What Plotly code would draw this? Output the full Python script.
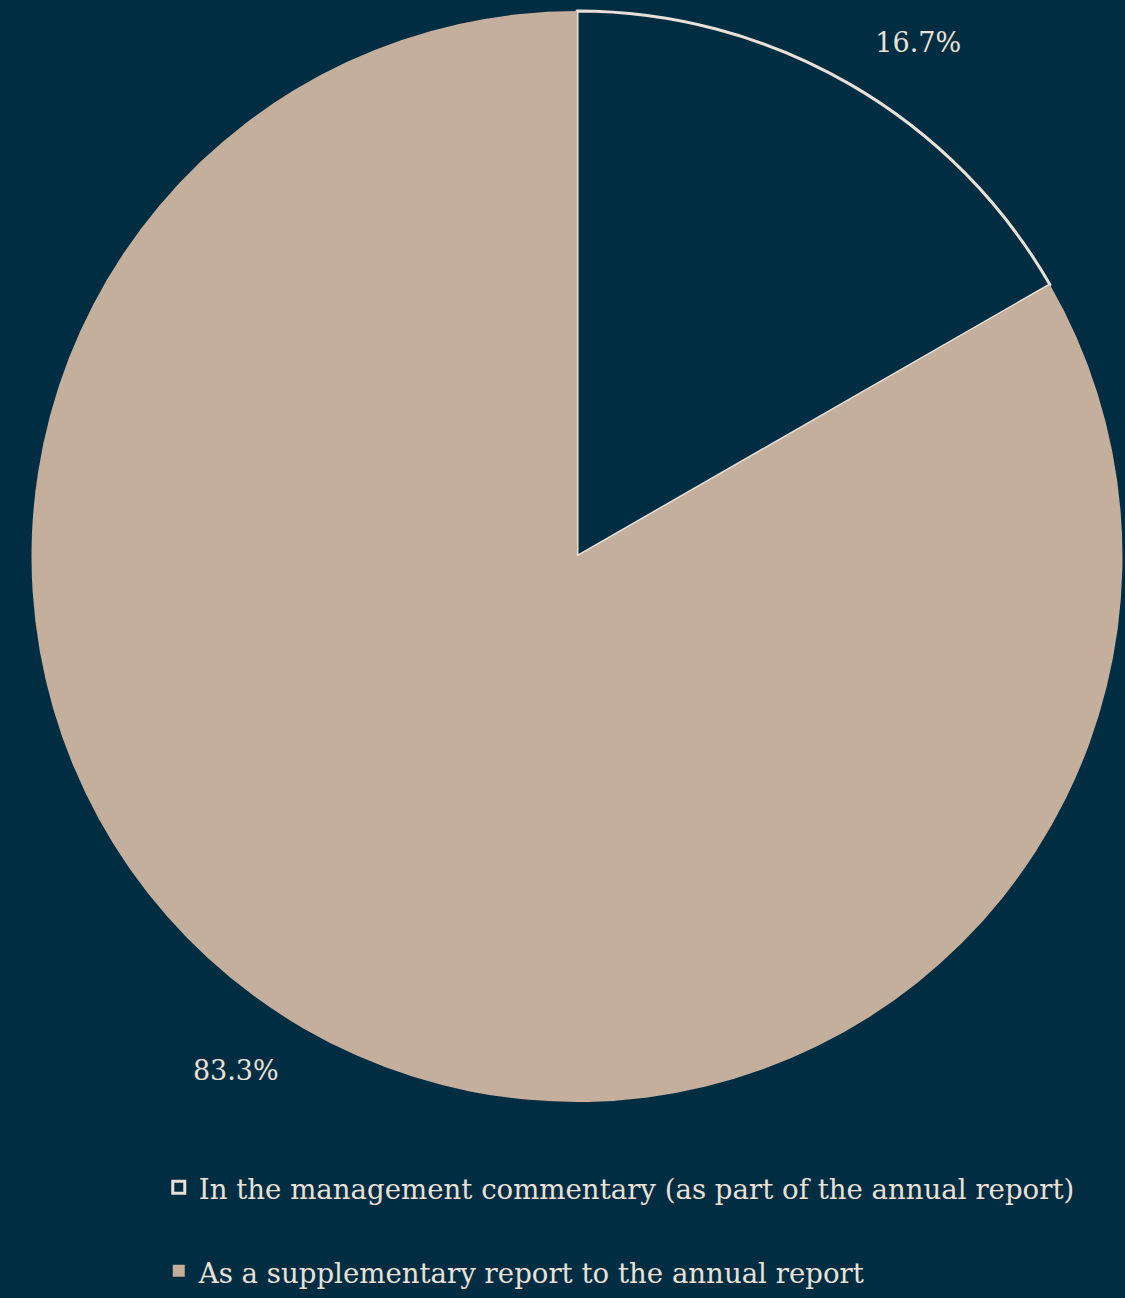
import plotly.graph_objects as go

# Share of companies by where the report is published
categories = [
    "In the management commentary (as part of the annual report)",
    "As a supplementary report to the annual report",
]
shares = [16.7, 83.3]

BG = "#012D43"
BEIGE = "#C4AF9C"
LIGHT = "#E9E1D8"
FONT = "Georgia, 'DejaVu Serif', 'Liberation Serif', serif"

# blank lines / spaces nudge the outside labels a little further from the rim
label_templates = ["\u00a0%{value:.1f}%<br> ", " <br>%{value:.1f}%\u00a0"]

# legend text is set at 27.6px inside a 31px legend font, which spaces the rows out;
# the first entry gets an empty second line to open the gap between entries
legend_labels = [
    f"<span style='font-size:27.6px'>{c}</span>" + ("<br> " if i < len(categories) - 1 else "")
    for i, c in enumerate(categories)
]

fig = go.Figure(
    go.Pie(
        labels=legend_labels,
        values=shares,
        sort=False,
        direction="clockwise",
        rotation=0,
        marker=dict(colors=[BG, BEIGE], line=dict(color=[LIGHT, BEIGE], width=[3, 0])),
        texttemplate=label_templates,
        textposition="outside",
        textfont=dict(color=LIGHT, size=27, family=FONT),
        automargin=False,
        hoverinfo="label+percent",
    )
)

PLOT_H = 1298 - 11 - 195

fig.update_layout(
    width=1125,
    height=1298,
    paper_bgcolor=BG,
    plot_bgcolor=BG,
    margin=dict(l=31, r=2, t=11, b=195),
    font=dict(family=FONT, color=LIGHT, size=28),
    legend=dict(
        orientation="v",
        x=0.117,
        xanchor="left",
        y=-(195 - 0.5) / PLOT_H,
        yanchor="bottom",
        valign="top",
        font=dict(size=31, color=LIGHT, family=FONT),
        bgcolor="rgba(0,0,0,0)",
    ),
)

fig.write_html("out.html")
